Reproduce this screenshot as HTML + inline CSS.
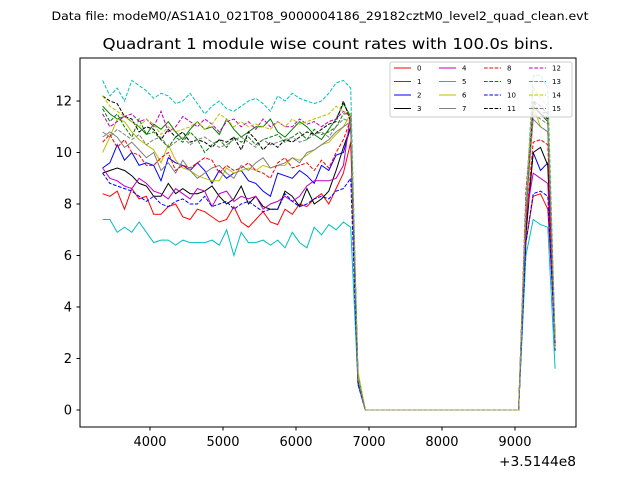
<!DOCTYPE html>
<html><head><meta charset="utf-8"><style>
html,body{margin:0;padding:0;background:#fff}
svg{display:block;font-family:"DejaVu Sans","Liberation Sans",sans-serif}
</style></head><body>
<svg id="chart" width="640" height="480" viewBox="0 0 640 480">
<text x="320" y="20" font-size="11.5" text-anchor="middle" textLength="537" lengthAdjust="spacingAndGlyphs">Data file: modeM0/AS1A10_021T08_9000004186_29182cztM0_level2_quad_clean.evt</text>
<text x="328" y="49" font-size="15" text-anchor="middle" textLength="451" lengthAdjust="spacingAndGlyphs">Quadrant 1 module wise count rates with 100.0s bins.</text>
<rect x="80" y="58" width="496" height="369" fill="none" stroke="#000" stroke-width="1"/>
<g id="series"></g>
<g id="axes"></g>
<text x="576" y="466" font-size="13" text-anchor="end" textLength="77" lengthAdjust="spacingAndGlyphs">+3.5144e8</text>
<g id="legend"></g>
</svg>
<script>
const xTicks=[4000,5000,6000,7000,8000,9000];
const yTicks=[0,2,4,6,8,10,12];
const times=[3350,3450,3550,3650,3750,3850,3950,4050,4150,4250,4350,4450,4550,4650,4750,4850,4950,5050,5150,5250,5350,5450,5550,5650,5750,5850,5950,6050,6150,6250,6350,6450,6550,6650,6750,6850,6950,7050,7150,7250,7350,7450,7550,7650,7750,7850,7950,8050,8150,8250,8350,8450,8550,8650,8750,8850,8950,9050,9150,9250,9350,9450,9550];
const zeros=[0,0,0,0,0,0,0,0,0,0,0,0,0,0,0,0,0,0,0,0,0,0];
const s0=[8.4,8.3,8.5,7.8,8.6,8.2,8.3,7.6,7.6,7.9,8.0,7.5,7.4,7.8,7.7,7.5,7.3,7.4,7.9,7.3,7.1,7.4,7.7,7.3,7.2,7.8,7.6,8.0,7.9,8.2,8.4,8.0,8.6,9.2,10.4,1.0];
const t0=[6.5,8.3,8.4,7.8,2.9];
const s1=[11.8,11.5,11.3,11.4,11.2,11.0,10.7,11.1,10.9,11.2,10.8,10.5,10.9,11.2,10.9,11.0,10.7,11.3,10.9,10.6,10.8,11.0,11.0,11.3,10.8,10.6,10.9,11.2,11.0,10.7,10.5,10.9,11.3,11.9,11.4,1.2];
const t1=[7.5,11.8,11.5,11.2,2.5];
const s2=[9.4,9.6,10.3,9.7,10.0,9.5,9.6,9.5,8.9,9.8,9.6,9.5,9.3,9.6,9.3,8.8,9.3,9.0,9.2,9.3,8.9,8.8,8.5,8.3,9.2,9.1,9.0,9.3,9.1,8.8,9.5,9.3,9.9,10.0,11.0,1.1];
const t2=[7.2,10.0,9.3,9.6,2.3];
const s3=[9.2,9.3,9.4,9.3,9.1,8.8,8.7,8.3,8.3,8.8,8.4,8.6,8.4,8.4,8.5,8.7,8.3,8.0,8.2,8.7,8.0,8.3,7.9,7.8,7.8,8.5,8.3,7.9,8.6,8.0,8.2,8.5,9.3,10.2,11.0,1.2];
const t3=[6.8,10.0,10.2,9.5,2.6];
const s4=[9.4,9.0,8.9,8.7,8.6,9.0,8.8,8.5,8.4,8.2,8.6,8.4,8.2,8.6,8.5,7.9,8.4,8.5,8.1,8.3,8.2,8.3,7.8,8.0,8.1,8.3,8.1,8.3,8.7,8.9,8.9,8.9,9.0,9.5,11.5,1.3];
const t4=[7.5,9.2,9.0,8.8,2.5];
const s5=[7.4,7.4,6.9,7.1,6.9,7.3,6.9,6.5,6.6,6.6,6.4,6.6,6.5,6.5,6.5,6.6,6.4,7.0,6.0,6.9,6.5,6.5,6.6,6.4,6.6,6.3,6.9,6.5,6.3,7.1,6.8,7.2,7.0,7.3,7.1,1.0];
const t5=[6.0,7.4,7.2,7.1,1.6];
const s6=[10.0,10.6,11.3,11.2,10.8,10.5,10.3,10.1,9.6,10.3,9.7,9.4,9.3,9.1,9.0,8.9,8.9,9.4,9.2,9.3,9.4,9.3,9.5,9.4,9.5,9.5,9.8,9.7,9.9,10.1,10.3,10.4,10.7,11.0,11.5,1.5];
const t6=[8.0,11.8,11.0,10.8,2.4];
const s7=[10.6,10.8,10.6,10.2,10.4,10.1,9.8,10.0,9.3,9.6,9.2,9.7,9.3,9.0,9.2,9.4,9.5,9.2,9.0,9.5,9.3,9.6,9.8,9.4,9.5,9.6,9.8,9.6,10.0,10.1,10.3,10.5,10.8,11.0,11.2,1.2];
const t7=[7.8,11.3,11.0,10.8,2.7];
const s8=[10.4,10.7,10.2,10.5,10.0,9.9,9.5,9.5,9.8,10.0,9.3,9.5,9.4,9.6,9.8,9.7,9.2,9.5,9.3,9.4,9.6,9.3,9.2,9.0,9.6,9.8,9.4,9.5,9.6,9.3,9.7,9.4,10.0,10.5,11.3,1.3];
const t8=[7.2,10.4,10.5,10.3,2.8];
const s9=[11.7,11.2,11.5,11.0,10.6,11.3,10.7,10.8,10.5,10.2,10.6,10.4,10.8,10.5,10.0,10.3,10.5,10.2,10.6,10.4,10.6,10.3,10.5,10.6,10.7,10.4,10.6,10.8,10.5,10.9,10.7,10.8,11.0,11.5,11.5,1.2];
const t9=[8.0,12.0,11.5,11.6,2.6];
const s10=[9.2,8.8,8.7,8.6,8.5,8.3,8.1,8.3,8.0,7.9,8.1,8.2,8.0,8.0,8.3,7.9,8.0,8.1,7.8,8.0,8.1,7.9,7.7,7.8,7.8,8.4,8.1,7.9,8.0,8.2,8.3,8.2,8.5,8.6,9.0,1.0];
const t10=[6.5,8.4,8.5,8.3,2.5];
const s11=[12.2,12.0,11.9,11.4,11.3,10.8,11.0,10.9,10.5,10.9,10.6,10.8,10.4,10.5,10.4,10.2,10.5,10.4,10.6,10.1,10.8,10.5,10.1,10.4,10.2,10.5,10.4,10.6,10.8,10.7,10.9,11.1,11.2,12.0,11.2,1.2];
const t11=[8.0,11.8,11.5,11.3,2.6];
const s12=[11.5,11.0,11.2,11.4,11.5,11.2,11.3,11.0,11.6,10.8,11.0,11.4,11.2,11.0,11.3,11.1,10.8,11.2,11.3,11.0,11.2,10.9,11.3,11.0,11.2,11.0,11.0,11.3,11.1,11.2,11.0,11.2,11.3,11.6,11.4,1.3];
const t12=[8.5,12.0,11.8,11.5,2.6];
const s13=[12.8,12.2,12.5,12.0,12.8,12.6,12.4,12.1,12.3,12.2,11.9,12.0,12.3,11.9,11.5,11.8,12.0,11.7,11.6,11.8,12.0,12.1,11.9,11.6,12.2,12.0,12.3,12.1,12.0,11.9,12.0,12.3,12.7,12.8,12.5,1.3];
const t13=[8.0,13.0,13.0,12.5,2.8];
const s14=[12.2,11.8,11.6,11.4,11.2,11.0,11.3,11.1,10.7,11.0,10.8,10.9,11.0,11.2,10.9,11.1,11.5,11.3,11.0,11.2,11.0,11.1,11.0,10.9,11.2,11.0,11.3,11.1,11.2,11.3,11.4,11.5,11.8,11.6,11.5,1.4];
const t14=[8.0,12.5,12.1,11.8,2.7];
const s15=[10.8,10.6,10.9,10.7,10.5,10.7,10.3,10.5,10.6,10.2,10.4,10.6,10.3,10.5,10.6,10.4,10.2,10.3,10.5,10.6,10.4,10.2,10.5,10.3,10.4,10.5,10.6,10.4,10.5,10.7,10.8,10.6,11.0,11.3,11.2,1.2];
const t15=[7.5,11.5,11.3,11.1,2.7];
const heads=[s0,s1,s2,s3,s4,s5,s6,s7,s8,s9,s10,s11,s12,s13,s14,s15];
const tails=[t0,t1,t2,t3,t4,t5,t6,t7,t8,t9,t10,t11,t12,t13,t14,t15];
const labels=["0","1","2","3","4","5","6","7","8","9","10","11","12","13","14","15"];
const colors=["#ff0000","#008000","#0000ff","#000000","#bf00bf","#00bfbf","#bfbf00","#808080","#ff0000","#008000","#0000ff","#000000","#bf00bf","#00bfbf","#bfbf00","#808080"];

const NS="http://www.w3.org/2000/svg";
const X0=3041, X1=9836, Y0=-0.66, Y1=13.67;
function xs(v){return 80+(v-X0)/(X1-X0)*496;}
function ys(v){return 427-(v-Y0)/(Y1-Y0)*369;}
const axes=document.getElementById('axes');
xTicks.forEach(t=>{
  const l=document.createElementNS(NS,'line');
  l.setAttribute('x1',xs(t));l.setAttribute('x2',xs(t));l.setAttribute('y1',427);l.setAttribute('y2',430.5);l.setAttribute('stroke','#000');
  
  
  axes.appendChild(l);
  const tx=document.createElementNS(NS,'text');
  tx.setAttribute('x',xs(t));tx.setAttribute('y',446);tx.setAttribute('font-size','13');tx.setAttribute('text-anchor','middle');tx.textContent=t;
  
  
  axes.appendChild(tx);
});
yTicks.forEach(t=>{
  const l=document.createElementNS(NS,'line');
  l.setAttribute('x1',76.5);l.setAttribute('x2',80);l.setAttribute('y1',ys(t));l.setAttribute('y2',ys(t));l.setAttribute('stroke','#000');
  
  
  axes.appendChild(l);
  const tx=document.createElementNS(NS,'text');
  tx.setAttribute('x',72);tx.setAttribute('y',ys(t)+4.5);tx.setAttribute('font-size','13');tx.setAttribute('text-anchor','end');tx.textContent=t;
  
  
  axes.appendChild(tx);
});
const sg=document.getElementById('series');
heads.forEach((h,i)=>{
  const vals=h.concat(zeros,tails[i]);
  const pts=vals.map((v,j)=>xs(times[j]).toFixed(1)+','+ys(v).toFixed(1)).join(' ');
  const p=document.createElementNS(NS,'polyline');
  p.setAttribute('points',pts);p.setAttribute('fill','none');p.setAttribute('stroke',colors[i]);p.setAttribute('stroke-width','1');
  if(i>=8)p.setAttribute('stroke-dasharray','3.7,1.6');
  
  
  sg.appendChild(p);
});
const lg=document.getElementById('legend');
const box=document.createElementNS(NS,'rect');
box.setAttribute('x',390);box.setAttribute('y',62);box.setAttribute('width',182);box.setAttribute('height',55);box.setAttribute('rx',2);
box.setAttribute('fill','#fff');box.setAttribute('fill-opacity','0.8');box.setAttribute('stroke','#ccc');


lg.appendChild(box);
labels.forEach((lab,i)=>{
  const col=Math.floor(i/4), row=i%4;
  const lx=394+col*45, ly=68+row*13.5;
  const l=document.createElementNS(NS,'line');
  l.setAttribute('x1',lx);l.setAttribute('x2',lx+17);l.setAttribute('y1',ly);l.setAttribute('y2',ly);l.setAttribute('stroke',colors[i]);
  if(i>=8)l.setAttribute('stroke-dasharray','3.7,1.6');
  
  
  lg.appendChild(l);
  const t=document.createElementNS(NS,'text');
  t.setAttribute('x',lx+23);t.setAttribute('y',ly+2.5);t.setAttribute('font-size','7');t.textContent=lab;
  
  
  lg.appendChild(t);
});
</script>
</body></html>
